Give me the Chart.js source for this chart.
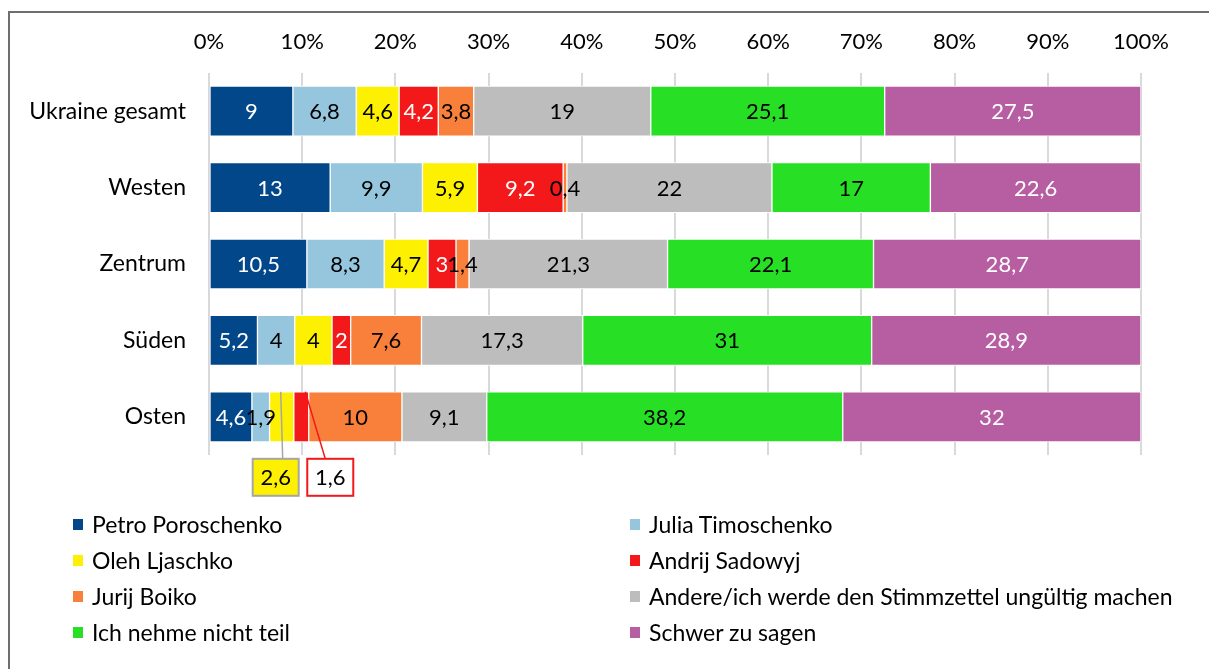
<!DOCTYPE html>
<html>
<head>
<meta charset="utf-8">
<script src="https://cdn.jsdelivr.net/npm/chart.js@4/dist/chart.umd.min.js"></script>
<style>
  html, body { margin: 0; padding: 0; background: #fff; }
  body { width: 1209px; height: 669px; position: relative; overflow: hidden; font-family: Lato, "Noto Sans", sans-serif; }
  #frame { position: absolute; left: 8px; top: 11px; right: -10px; bottom: -10px; border-left: 2px solid #6e6e6e; border-top: 2px solid #6e6e6e; }
  #chart { position: absolute; left: 0; top: 0; }
  .legend-item { position: absolute; font-size: 23px; color: #000; line-height: 28px; white-space: nowrap; padding-left: 19px; }
  .legend-box { position: absolute; left: 0; width: 10px; height: 11px; top: 9px; }
</style>
</head>
<body>
<div id="frame"></div>
<canvas id="chart" width="1209" height="669"></canvas>
<div id="legend"></div>
<script>
const categories = ["Ukraine gesamt", "Westen", "Zentrum", "Süden", "Osten"];
const seriesNames = [
  "Petro Poroschenko",
  "Julia Timoschenko",
  "Oleh Ljaschko",
  "Andrij Sadowyj",
  "Jurij Boiko",
  "Andere/ich werde den Stimmzettel ungültig machen",
  "Ich nehme nicht teil",
  "Schwer zu sagen",
];
const poroschenko = [9, 13, 10.5, 5.2, 4.6];
const timoschenko = [6.8, 9.9, 8.3, 4, 1.9];
const ljaschko = [4.6, 5.9, 4.7, 4, 2.6];
const sadowyj = [4.2, 9.2, 3, 2, 1.6];
const boiko = [3.8, 0.4, 1.4, 7.6, 10];
const andere = [19, 22, 21.3, 17.3, 9.1];
const nichtTeil = [25.1, 17, 22.1, 31, 38.2];
const schwer = [27.5, 22.6, 28.7, 28.9, 32];
const xTickValues = [0, 10, 20, 30, 40, 50, 60, 70, 80, 90, 100];

const seriesValues = [poroschenko, timoschenko, ljaschko, sadowyj, boiko, andere, nichtTeil, schwer];
const seriesColors = ["#02478A", "#96C6DE", "#FDF000", "#F3191B", "#F9803B", "#BDBDBD", "#27E025", "#B75EA2"];
const labelColors = ["#fff", "#000", "#000", "#fff", "#000", "#000", "#000", "#fff"];

// Osten: Ljaschko and Sadowyj get their labels in boxes under the bar
const callouts = [
  { series: 2, category: 4, dx: -6, fill: "#FDF000", stroke: "#A6A6A6", lineFrom: -1, lineDx: 1 },
  { series: 3, category: 4, dx: 29, fill: "#fff", stroke: "#F3191B", lineFrom: 4, lineDx: 24 },
];

const fmt = (v) => String(v).replace(".", ",");
const isCallout = (s, c) => callouts.some((co) => co.series === s && co.category === c);

const labelPlugin = {
  id: "segmentLabels",
  afterDatasetsDraw(chart) {
    const ctx = chart.ctx;
    ctx.save();
    ctx.font = "22px Lato";
    ctx.textAlign = "center";
    ctx.textBaseline = "middle";
    chart.data.datasets.forEach((ds, s) => {
      chart.getDatasetMeta(s).data.forEach((el, c) => {
        if (isCallout(s, c)) return;
        ctx.fillStyle = labelColors[s];
        ctx.fillText(fmt(ds.data[c]), (el.x + el.base) / 2, el.y + 1);
      });
    });

    callouts.forEach((co) => {
      const el = chart.getDatasetMeta(co.series).data[co.category];
      const cx = (el.x + el.base) / 2;
      const top = el.y - el.height / 2;
      const bottom = el.y + el.height / 2;
      const boxW = 46, boxH = 37;
      const boxTop = bottom + 17;
      const boxLeft = cx + co.dx - boxW / 2;
      ctx.strokeStyle = co.stroke;
      ctx.lineWidth = 1.5;
      ctx.beginPath();
      ctx.moveTo(cx + co.lineFrom, top);
      ctx.lineTo(cx + co.lineDx, boxTop);
      ctx.stroke();
      ctx.fillStyle = co.fill;
      ctx.fillRect(boxLeft, boxTop, boxW, boxH);
      ctx.lineWidth = 2;
      ctx.strokeRect(boxLeft, boxTop, boxW, boxH);
      ctx.fillStyle = "#000";
      ctx.fillText(fmt(chart.data.datasets[co.series].data[co.category]), boxLeft + boxW / 2, boxTop + boxH / 2 + 1);
    });
    ctx.restore();
  },
};

new Chart(document.getElementById("chart"), {
  type: "bar",
  data: {
    labels: categories,
    datasets: seriesNames.map((name, i) => ({
      label: name,
      data: seriesValues[i],
      backgroundColor: seriesColors[i],
      borderColor: "#fff",
      borderWidth: 1,
      borderSkipped: false,
      barThickness: 50,
    })),
  },
  options: {
    indexAxis: "y",
    responsive: false,
    animation: false,
    layout: { padding: { top: 0, left: 0, right: 68, bottom: 214 } },
    plugins: { legend: { display: false }, tooltip: { enabled: false } },
    scales: {
      x: {
        position: "top",
        stacked: true,
        min: 0,
        max: 100,
        afterBuildTicks: (scale) => {
          scale.ticks = xTickValues.map((v) => ({ value: v }));
        },
        afterFit: (scale) => { scale.height = 73; },
        ticks: {
          color: "#000",
          padding: 18,
          font: { family: "Lato", size: 22 },
          maxRotation: 0,
          callback: (v) => v + "%",
        },
        grid: { color: "#D9D9D9", lineWidth: 2, drawTicks: false },
        border: { display: false },
      },
      y: {
        stacked: true,
        afterFit: (scale) => { scale.width = 209; },
        ticks: {
          color: "#000",
          padding: 23,
          font: { family: "Lato", size: 23 },
        },
        grid: { display: false, drawTicks: false },
        border: { display: false },
      },
    },
  },
  plugins: [labelPlugin],
});

// legend: two columns, four rows
const legendEl = document.getElementById("legend");
const legendCols = [73, 630];
const legendRows = [510, 546, 582, 618];
seriesNames.forEach((name, i) => {
  const item = document.createElement("div");
  item.className = "legend-item";
  item.style.left = legendCols[i % 2] + "px";
  item.style.top = legendRows[Math.floor(i / 2)] + "px";
  const box = document.createElement("span");
  box.className = "legend-box";
  box.style.background = seriesColors[i];
  item.appendChild(box);
  item.appendChild(document.createTextNode(name));
  legendEl.appendChild(item);
});
</script>
</body>
</html>
